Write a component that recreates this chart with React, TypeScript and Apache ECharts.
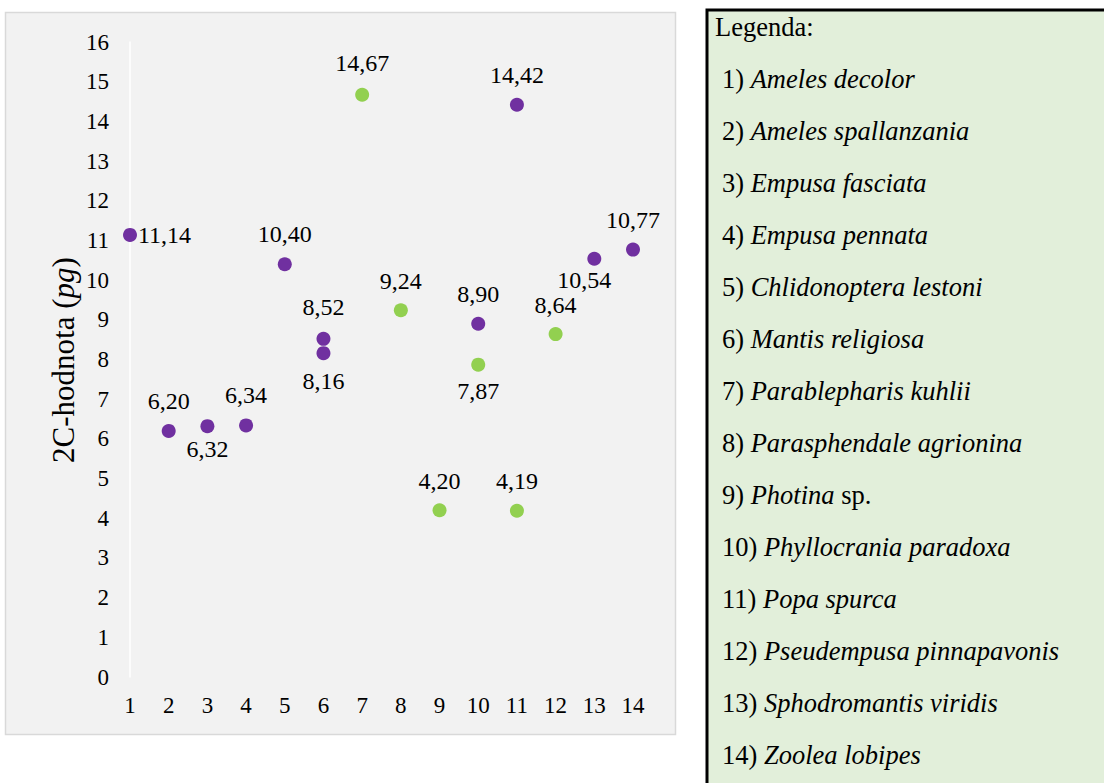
import React, { useEffect, useRef } from "react";
import * as echarts from "echarts";

const xTicks = [1, 2, 3, 4, 5, 6, 7, 8, 9, 10, 11, 12, 13, 14];
const purpleX = [1, 2, 3, 4, 5, 6, 6, 10, 11, 13, 14];
const purpleY = [11.14, 6.2, 6.32, 6.34, 10.4, 8.52, 8.16, 8.9, 14.42, 10.54, 10.77];
const purplePos = ["right", "top", "bottom", "top", "top", "top", "bottom", "top", "top", "bottom", "top"];
const purpleDist = [1, 11, 4, 11, 11, 13, 9, 11, 11, 2, 11];
const purpleShift = [0, 0, 0, 0, 0, 0, 0, 0, 0, -10, 0];
const greenX = [7, 8, 9, 10, 11, 12];
const greenY = [14.67, 9.24, 4.2, 7.87, 4.19, 8.64];
const greenPos = ["top", "top", "top", "bottom", "top", "top"];
const greenDist = [13, 10, 10, 7, 11, 10];
const greenShift = [0, 0, 0, 0, 0, 0];
const legendNums = ["1)", "2)", "3)", "4)", "5)", "6)", "7)", "8)", "9)", "10)", "11)", "12)", "13)", "14)"];
const legendNames = [
  "Ameles decolor",
  "Ameles spallanzania",
  "Empusa fasciata",
  "Empusa pennata",
  "Chlidonoptera lestoni",
  "Mantis religiosa",
  "Parablepharis kuhlii",
  "Parasphendale agrionina",
  "Photina",
  "Phyllocrania paradoxa",
  "Popa spurca",
  "Pseudempusa pinnapavonis",
  "Sphodromantis viridis",
  "Zoolea lobipes",
];
const legendSuffix = ["", "", "", "", "", "", "", "", " sp.", "", "", "", "", ""];

const FONT = "Liberation Serif";
const PURPLE = "#7030a0";
const GREEN = "#92d050";
const LEG = 26.5;

function buildData(xs: number[], ys: number[], pos: string[], dist: number[], shift: number[]) {
  return xs.map((x, i) => ({
    value: [x, ys[i]],
    label: {
      position: pos[i],
      distance: dist[i],
      offset: [shift[i], 0],
    },
  }));
}

export default function App() {
  const ref = useRef<HTMLDivElement>(null);
  useEffect(() => {
    if (!ref.current) return;
    const chart = echarts.init(ref.current, null, { renderer: "svg" });
    const labelStyle = {
      show: true,
      fontFamily: FONT,
      fontSize: 24,
      fontWeight: "normal",
      color: "#000",
      formatter: (p: any) => p.value[1].toFixed(2).replace(".", ","),
    };
    const legendTexts: any[] = [
      {
        type: "text",
        x: 715,
        y: 27,
        style: {
          text: "Legenda:",
          font: `normal normal ${LEG}px ${FONT}`,
          fill: "#000",
          verticalAlign: "middle",
        },
        z: 10,
      },
    ];
    legendNums.forEach((n, i) => {
      legendTexts.push({
        type: "text",
        x: 722,
        y: 79 + i * 52,
        style: {
          text: `{n|${n} }{i|${legendNames[i]}}{n|${legendSuffix[i]}}`,
          font: `normal normal ${LEG}px ${FONT}`,
          fill: "#000",
          verticalAlign: "middle",
          rich: {
            n: { font: `normal normal ${LEG}px ${FONT}`, fill: "#000" },
            i: { font: `italic normal ${LEG}px ${FONT}`, fill: "#000" },
          },
        },
        z: 10,
      });
    });
    chart.setOption({
      animation: false,
      textStyle: { fontFamily: FONT },
      grid: { left: 130, right: 471, top: 42, bottom: 106 },
      xAxis: {
        type: "value",
        min: 1,
        max: 14,
        interval: 1,
        axisLine: { show: false },
        axisTick: { show: false },
        splitLine: { show: false },
        axisLabel: {
          fontFamily: FONT,
          fontSize: 23,
          color: "#000",
          margin: 17,
          formatter: (v: number) => (xTicks.includes(v) ? String(v) : ""),
        },
      },
      yAxis: {
        type: "value",
        min: 0,
        max: 16,
        interval: 1,
        axisLine: { show: true, lineStyle: { color: "#ffffff", width: 1.5 } },
        axisTick: { show: false },
        splitLine: { show: false },
        axisLabel: { fontFamily: FONT, fontSize: 23, color: "#000", margin: 21 },
      },
      graphic: [
        {
          type: "rect",
          shape: { x: 5.5, y: 12.5, width: 670, height: 722 },
          style: { fill: "#f2f2f2", stroke: "#d9d9d9", lineWidth: 1.5 },
          z: -10,
          silent: true,
        },
        {
          type: "text",
          x: 63,
          y: 360,
          rotation: Math.PI / 2,
          style: {
            text: "{n|2C-hodnota (}{i|pg}{n|)}",
            font: `normal normal 31px ${FONT}`,
            fill: "#000",
            align: "center",
            verticalAlign: "middle",
            rich: {
              n: { font: `normal normal 31px ${FONT}`, fill: "#000" },
              i: { font: `italic normal 31px ${FONT}`, fill: "#000" },
            },
          },
        },
        {
          type: "rect",
          shape: { x: 707, y: 10, width: 420, height: 800 },
          style: { fill: "#e2efda", stroke: "#000", lineWidth: 3 },
          z: 5,
          silent: true,
        },
        ...legendTexts,
      ],
      series: [
        {
          type: "scatter",
          symbolSize: 14,
          itemStyle: { color: PURPLE, opacity: 1 },
          label: labelStyle,
          data: buildData(purpleX, purpleY, purplePos, purpleDist, purpleShift),
        },
        {
          type: "scatter",
          symbolSize: 14,
          itemStyle: { color: GREEN, opacity: 1 },
          label: labelStyle,
          data: buildData(greenX, greenY, greenPos, greenDist, greenShift),
        },
      ],
    });
    return () => chart.dispose();
  }, []);
  return (
    <div
      ref={ref}
      style={{ position: "fixed", left: 0, top: 0, width: 1104, height: 783, background: "#fff", fontFamily: FONT }}
    />
  );
}
